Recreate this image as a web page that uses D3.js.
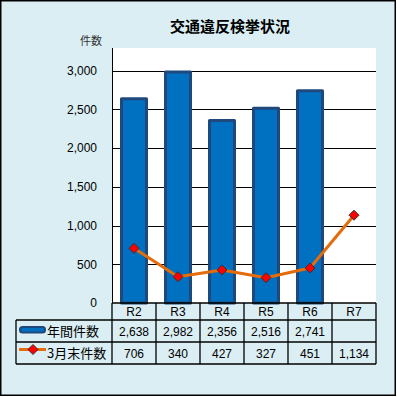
<!DOCTYPE html>
<html><head><meta charset="utf-8">
<script src="https://cdn.jsdelivr.net/npm/d3@7"></script>
<style>html,body{margin:0;padding:0;background:#fff;}svg{display:block;}</style>
</head><body>
<script>
const categories = ["R2","R3","R4","R5","R6","R7"];
const annualCounts = [2638, 2982, 2356, 2516, 2741, null];
const marchCounts = [706, 340, 427, 327, 451, 1134];
const yTicks = [0, 500, 1000, 1500, 2000, 2500, 3000];
const seriesNames = ["年間件数", "3月末件数"];
const title = "交通違反検挙状況";
const yUnit = "件数";

(function(){
const W = 397, H = 397;
const bg = "#daeef3";
const svg = d3.select("body").append("svg").attr("width", W).attr("height", H);
svg.append("rect").attr("x",0).attr("y",0).attr("width",W).attr("height",H).attr("fill","#fff");
svg.append("rect").attr("x",0.75).attr("y",0.75).attr("width",394.5).attr("height",394.5)
  .attr("fill",bg).attr("stroke","#000").attr("stroke-width",1.5);

const pL = 112, pR = 376, pT = 48, pB = 303;
const x = d3.scaleBand().domain(categories).range([pL, pR]).padding(0);
const y = d3.scaleLinear().domain([0, 3000]).range([pB, 70.7]);

// plot area
svg.append("rect").attr("x",pL).attr("y",pT).attr("width",pR-pL).attr("height",pB-pT).attr("fill","#fff");

// gridlines
svg.append("g").selectAll("line").data(yTicks.filter(d=>d>0)).join("line")
  .attr("x1",pL).attr("x2",pR).attr("y1",d=>Math.round(y(d))+0.5).attr("y2",d=>Math.round(y(d))+0.5)
  .attr("stroke","#000").attr("stroke-width",1);

// y axis
const yAxis = d3.axisLeft(y).tickValues(yTicks).tickSize(0).tickPadding(15).tickFormat(d3.format(","));
const ya = svg.append("g").attr("transform",`translate(${pL},0)`).call(yAxis);
ya.select(".domain").remove();
ya.selectAll("text").attr("font-family","'Liberation Sans', Arial, sans-serif").attr("font-size",12).attr("fill","#000");
svg.append("line").attr("x1",pL+0.5).attr("x2",pL+0.5).attr("y1",pT).attr("y2",pB).attr("stroke","#000");

// bars
const bw = 25;
svg.append("g").selectAll("rect").data(categories.map((c,i)=>({c,v:annualCounts[i]})).filter(d=>d.v!=null)).join("rect")
  .attr("x",d=>x(d.c)+x.bandwidth()/2-bw/2)
  .attr("y",d=>y(d.v))
  .attr("width",bw)
  .attr("height",d=>pB-y(d.v))
  .attr("fill","#0070c0").attr("stroke","#1f497d").attr("stroke-width",3).attr("stroke-linejoin","round");

// line
const lineData = categories.map((c,i)=>({c,v:marchCounts[i]}));
const line = d3.line().x(d=>x(d.c)+x.bandwidth()/2).y(d=>y(d.v));
svg.append("path").datum(lineData).attr("d",line).attr("fill","none").attr("stroke","#e46c0a").attr("stroke-width",3).attr("stroke-linejoin","round");
svg.append("g").selectAll("path").data(lineData).join("path")
  .attr("transform",d=>`translate(${x(d.c)+x.bandwidth()/2},${y(d.v)})`)
  .attr("d", "M0,-5L5,0L0,5L-5,0Z")
  .attr("fill","#ff0000").attr("stroke","#333").attr("stroke-width",1);

// table
const rowY = [303, 320, 342, 364];
const tl = 16;
const tg = svg.append("g").attr("stroke","#000").attr("stroke-width",1.3).attr("fill","none");
tg.append("line").attr("x1",pL).attr("x2",pR).attr("y1",rowY[0]).attr("y2",rowY[0]);
[1,2,3].forEach(k=>tg.append("line").attr("x1",tl).attr("x2",pR).attr("y1",rowY[k]).attr("y2",rowY[k]));
tg.append("line").attr("x1",tl).attr("x2",tl).attr("y1",rowY[1]).attr("y2",rowY[3]);
const colEdges = categories.map(c=>x(c)).concat([pR]);
colEdges.forEach(cx=>{
  tg.append("line").attr("x1",cx).attr("x2",cx).attr("y1",rowY[0]).attr("y2",rowY[3]);
});
const fmt = d3.format(",");
const txt = svg.append("g").attr("font-family","'Liberation Sans', Arial, sans-serif").attr("font-size",12).attr("fill","#000").attr("text-anchor","middle");
categories.forEach((c,i)=>{
  const cx = x(c)+x.bandwidth()/2;
  txt.append("text").attr("x",cx).attr("y",(rowY[0]+rowY[1])/2+4.5).text(c);
  if (annualCounts[i]!=null) txt.append("text").attr("x",cx).attr("y",(rowY[1]+rowY[2])/2+4.5).text(fmt(annualCounts[i]));
  if (marchCounts[i]!=null) txt.append("text").attr("x",cx).attr("y",(rowY[2]+rowY[3])/2+4.5).text(fmt(marchCounts[i]));
});
// legend keys
svg.append("rect").attr("x",20).attr("y",327).attr("width",25).attr("height",5.5).attr("rx",2.5)
  .attr("fill","#0070c0").attr("stroke","#1f497d").attr("stroke-width",2);
svg.append("line").attr("x1",19).attr("x2",46).attr("y1",349.5).attr("y2",349.5).attr("stroke","#e46c0a").attr("stroke-width",3);
svg.append("path").attr("transform","translate(33,349.5)").attr("d","M0,-5L5,0L0,5L-5,0Z").attr("fill","#ff0000").attr("stroke","#333").attr("stroke-width",1);
const lt = svg.append("g").attr("font-family","'Noto Sans CJK JP', sans-serif").attr("font-size",13).attr("fill","#000");
lt.append("text").attr("x",47).attr("y",336).text(seriesNames[0]);
lt.append("text").attr("x",47).attr("y",358).text(seriesNames[1]);

// title
svg.append("text").attr("x",230).attr("y",32).attr("text-anchor","middle")
  .attr("font-family","'Noto Sans CJK JP', sans-serif").attr("font-weight","bold").attr("font-size",15).text(title);
svg.append("text").attr("x",91).attr("y",45).attr("text-anchor","middle")
  .attr("font-family","'Noto Sans CJK JP', sans-serif").attr("font-size",11).attr("fill","#333").text(yUnit);
})();
</script>
</body></html>
